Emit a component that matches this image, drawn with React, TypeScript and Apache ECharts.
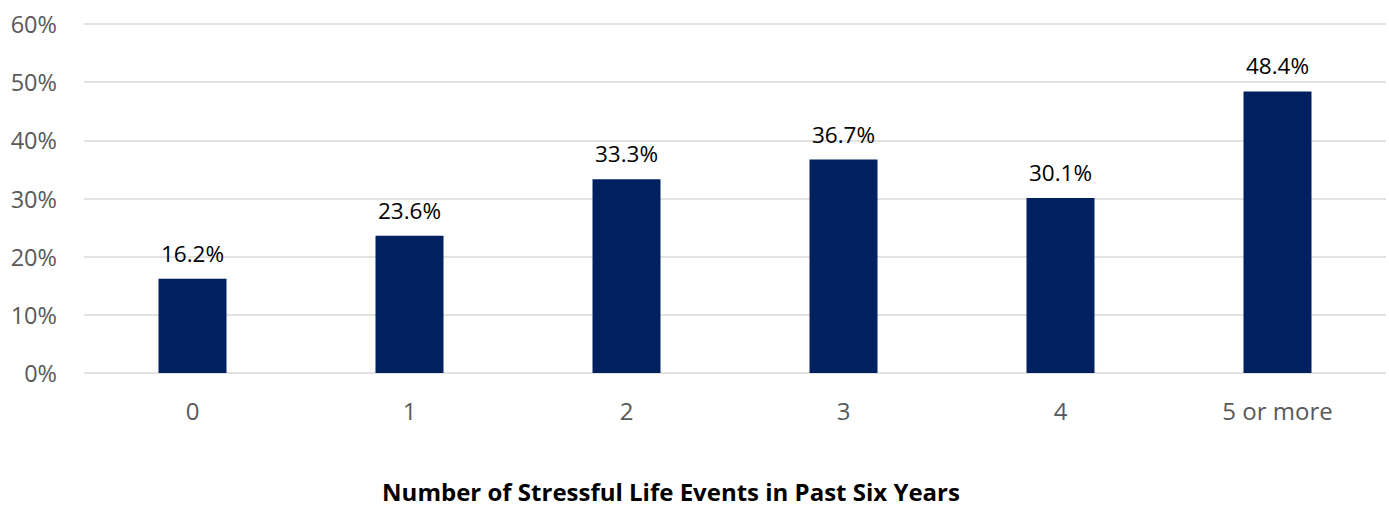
import React, { useEffect, useRef } from "react";
import * as echarts from "echarts";

const categories = ["0", "1", "2", "3", "4", "5 or more"];
const shares = [16.2, 23.6, 33.3, 36.7, 30.1, 48.4];
const yTicks = [0, 10, 20, 30, 40, 50, 60];
const axisTitle = "Number of Stressful Life Events in Past Six Years";

const FONT = "'Open Sans', 'Liberation Sans', sans-serif";

export default function App() {
  const ref = useRef<HTMLDivElement>(null);

  useEffect(() => {
    if (!ref.current) return;
    const chart = echarts.init(ref.current, undefined, { renderer: "svg" });
    chart.setOption({
      animation: false,
      grid: { left: 84, right: 3, top: 24, height: 349, containLabel: false },
      graphic: [
        {
          type: "text",
          x: 671,
          y: 491,
          style: {
            text: axisTitle,
            fill: "#000",
            font: `bold 24px ${FONT}`,
            textAlign: "center",
            textVerticalAlign: "middle",
          },
        },
      ],
      xAxis: {
        type: "category",
        data: categories,
        axisLine: { show: false },
        axisTick: { show: false },
        axisLabel: { color: "#595959", fontSize: 24, fontFamily: FONT, margin: 25 },
      },
      yAxis: {
        type: "value",
        min: yTicks[0],
        max: yTicks[yTicks.length - 1],
        interval: 10,
        axisLine: { show: false },
        axisTick: { show: false },
        axisLabel: {
          color: "#595959",
          fontSize: 23.5,
          fontFamily: FONT,
          margin: 27,
          formatter: (v: number) => `${v}%`,
        },
        splitLine: { lineStyle: { color: "#d9d9d9", width: 1.5 } },
      },
      series: [
        {
          type: "bar",
          data: shares,
          barWidth: 68,
          itemStyle: { color: "#002060" },
          label: {
            show: true,
            position: "top",
            distance: 14,
            color: "#000",
            fontSize: 22.5,
            fontFamily: FONT,
            formatter: (p: any) => `${Number(p.value).toFixed(1)}%`,
          },
        },
      ],
    });
    return () => chart.dispose();
  }, []);

  return (
    <div
      ref={ref}
      style={{ position: "fixed", left: 0, top: 0, width: 1389, height: 506, background: "#fff" }}
    />
  );
}
